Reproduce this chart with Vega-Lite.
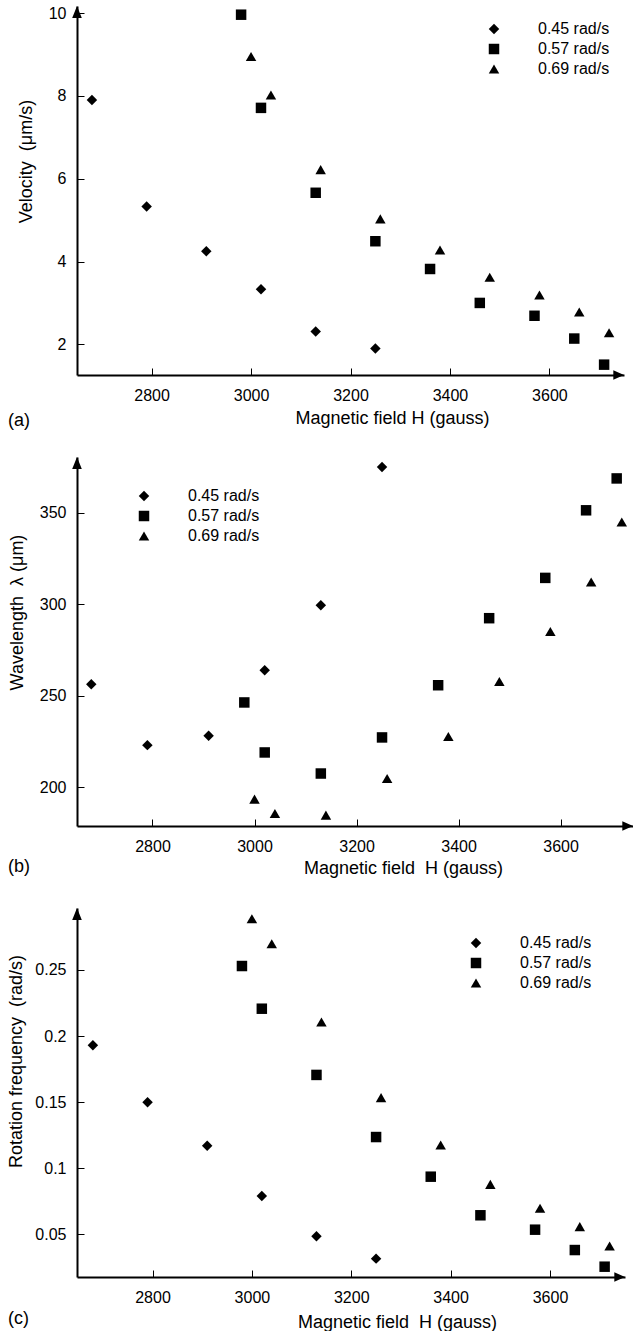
{
  "$schema": "https://vega.github.io/schema/vega-lite/v6.json",
  "padding": {"left": 7, "top": 5, "right": 0, "bottom": 0},
  "datasets": {
    "pts": [
      {"series": "0.45 rad/s", "H": 2680, "velocity": 7.90, "wavelength": 256.4, "rotation": 0.193},
      {"series": "0.45 rad/s", "H": 2790, "velocity": 5.33, "wavelength": 223.1, "rotation": 0.150},
      {"series": "0.45 rad/s", "H": 2910, "velocity": 4.25, "wavelength": 228.2, "rotation": 0.117},
      {"series": "0.45 rad/s", "H": 3020, "velocity": 3.33, "wavelength": 264.0, "rotation": 0.079},
      {"series": "0.45 rad/s", "H": 3130, "velocity": 2.31, "wavelength": 299.5, "rotation": 0.0485},
      {"series": "0.45 rad/s", "H": 3250, "velocity": 1.90, "wavelength": 374.9, "rotation": 0.0316},
      {"series": "0.57 rad/s", "H": 2980, "velocity": 9.96, "wavelength": 246.4, "rotation": 0.253},
      {"series": "0.57 rad/s", "H": 3020, "velocity": 7.71, "wavelength": 219.1, "rotation": 0.2207},
      {"series": "0.57 rad/s", "H": 3130, "velocity": 5.66, "wavelength": 207.6, "rotation": 0.1706},
      {"series": "0.57 rad/s", "H": 3250, "velocity": 4.49, "wavelength": 227.3, "rotation": 0.1236},
      {"series": "0.57 rad/s", "H": 3360, "velocity": 3.82, "wavelength": 255.8, "rotation": 0.0936},
      {"series": "0.57 rad/s", "H": 3460, "velocity": 3.00, "wavelength": 292.4, "rotation": 0.0644},
      {"series": "0.57 rad/s", "H": 3570, "velocity": 2.69, "wavelength": 314.4, "rotation": 0.0535},
      {"series": "0.57 rad/s", "H": 3650, "velocity": 2.14, "wavelength": 351.3, "rotation": 0.0381},
      {"series": "0.57 rad/s", "H": 3710, "velocity": 1.51, "wavelength": 368.7, "rotation": 0.0255},
      {"series": "0.69 rad/s", "H": 3000, "velocity": 8.95, "wavelength": 193.6, "rotation": 0.2888},
      {"series": "0.69 rad/s", "H": 3040, "velocity": 8.02, "wavelength": 185.8, "rotation": 0.2699},
      {"series": "0.69 rad/s", "H": 3140, "velocity": 6.22, "wavelength": 184.9, "rotation": 0.2107},
      {"series": "0.69 rad/s", "H": 3260, "velocity": 5.03, "wavelength": 204.9, "rotation": 0.1534},
      {"series": "0.69 rad/s", "H": 3380, "velocity": 4.28, "wavelength": 227.8, "rotation": 0.1176},
      {"series": "0.69 rad/s", "H": 3480, "velocity": 3.62, "wavelength": 257.8, "rotation": 0.0878},
      {"series": "0.69 rad/s", "H": 3580, "velocity": 3.19, "wavelength": 285.1, "rotation": 0.0697},
      {"series": "0.69 rad/s", "H": 3660, "velocity": 2.78, "wavelength": 312.2, "rotation": 0.0558},
      {"series": "0.69 rad/s", "H": 3720, "velocity": 2.28, "wavelength": 344.9, "rotation": 0.0412}
    ]
  },
  "config": {
    "view": {"stroke": null},
    "font": "Liberation Sans",
    "axis": {
      "grid": false, "domainColor": "black", "domainWidth": 2,
      "tickColor": "black", "tickSize": -7, "tickWidth": 1,
      "labelFont": "Liberation Sans", "labelFontSize": 16, "labelColor": "black",
      "titleFont": "Liberation Sans", "titleFontSize": 18, "titleFontWeight": "normal", "titleColor": "black"
    },
    "axisX": {"labelPadding": 19},
    "axisY": {"labelPadding": 18},
    "legend": {
      "title": null, "labelFont": "Liberation Sans", "labelFontSize": 16, "labelColor": "black",
      "labelOffset": 36, "rowPadding": 4, "symbolSize": 110, "symbolFillColor": "black",
      "symbolStrokeColor": "black", "symbolStrokeWidth": 0, "padding": 0
    },
    "title": {
      "orient": "bottom", "anchor": "start", "frame": "group", "dx": -69,
      "fontSize": 18, "fontWeight": "normal", "font": "Liberation Sans", "color": "black"
    }
  },
  "bounds": "flush",
  "spacing": 82,
  "resolve": {"legend": {"shape": "independent"}, "scale": {"shape": "independent"}},
  "vconcat": [
    {
      "width": 547, "height": 369,
      "title": {"text": "(a)", "offset": -15},
      "layer": [
        {
          "data": {"name": "pts"},
          "mark": {"type": "point", "filled": true, "size": 110, "color": "black", "opacity": 1},
          "encoding": {
            "x": {"field": "H", "type": "quantitative",
              "scale": {"domain": [2650, 3750], "nice": false, "zero": false},
              "axis": {"values": [2800, 3000, 3200, 3400, 3600], "format": "d", "title": "Magnetic field H (gauss)",
                "titleX": 315, "titleY": 48, "titleBaseline": "alphabetic"}},
            "y": {"field": "velocity", "type": "quantitative",
              "scale": {"domain": [1.26, 10.17], "nice": false, "zero": false},
              "axis": {"values": [2, 4, 6, 8, 10], "title": "Velocity\u00a0 (μm/s)", "titleX": -51, "titleY": 155, "titleBaseline": "middle"}},
            "shape": {"field": "series", "type": "nominal",
              "scale": {"domain": ["0.45 rad/s", "0.57 rad/s", "0.69 rad/s"], "range": ["diamond", "square", "triangle-up"]},
              "legend": {"orient": "none", "legendX": 409, "legendY": 15, "labelOffset": 36, "labelFontSize": 16, "labelFont": "Liberation Sans", "symbolSize": 110}}
          }
        },
        {
          "data": {"values": [{}]},
          "mark": {"type": "point", "shape": "M0,0L-0.4,1L0.4,1Z", "size": 576, "filled": true, "color": "black", "opacity": 1},
          "encoding": {"x": {"datum": 2650, "type": "quantitative"}, "y": {"datum": 10.17, "type": "quantitative"}}
        },
        {
          "data": {"values": [{}]},
          "mark": {"type": "point", "shape": "M0,0L-1,-0.45L-1,0.45Z", "size": 458, "filled": true, "color": "black", "opacity": 1},
          "encoding": {"x": {"datum": 3750, "type": "quantitative"}, "y": {"datum": 1.26, "type": "quantitative"}}
        }
      ]
    },
    {
      "width": 556, "height": 369,
      "title": {"text": "(b)", "offset": -19},
      "layer": [
        {
          "data": {"name": "pts"},
          "mark": {"type": "point", "filled": true, "size": 110, "color": "black", "opacity": 1},
          "encoding": {
            "x": {"field": "H", "type": "quantitative",
              "scale": {"domain": [2652, 3742], "nice": false, "zero": false},
              "axis": {"values": [2800, 3000, 3200, 3400, 3600], "format": "d", "title": "Magnetic field\u00a0 H (gauss)",
                "titleX": 326, "titleY": 47, "titleBaseline": "alphabetic"}},
            "y": {"field": "wavelength", "type": "quantitative",
              "scale": {"domain": [178.95, 380.4], "nice": false, "zero": false},
              "axis": {"values": [200, 250, 300, 350], "title": "Wavelength\u00a0 λ (μm)", "titleX": -60, "titleY": 155, "titleBaseline": "middle"}},
            "shape": {"field": "series", "type": "nominal",
              "scale": {"domain": ["0.45 rad/s", "0.57 rad/s", "0.69 rad/s"], "range": ["diamond", "square", "triangle-up"]},
              "legend": {"orient": "none", "legendX": 59, "legendY": 31, "labelOffset": 36, "labelFontSize": 16, "labelFont": "Liberation Sans", "symbolSize": 110}}
          }
        },
        {
          "data": {"values": [{}]},
          "mark": {"type": "point", "shape": "M0,0L-0.4,1L0.4,1Z", "size": 576, "filled": true, "color": "black", "opacity": 1},
          "encoding": {"x": {"datum": 2652, "type": "quantitative"}, "y": {"datum": 380.4, "type": "quantitative"}}
        },
        {
          "data": {"values": [{}]},
          "mark": {"type": "point", "shape": "M0,0L-1,-0.45L-1,0.45Z", "size": 458, "filled": true, "color": "black", "opacity": 1},
          "encoding": {"x": {"datum": 3742, "type": "quantitative"}, "y": {"datum": 178.95, "type": "quantitative"}}
        }
      ]
    },
    {
      "width": 548, "height": 369,
      "title": {"text": "(c)", "offset": -21},
      "layer": [
        {
          "data": {"name": "pts"},
          "mark": {"type": "point", "filled": true, "size": 110, "color": "black", "opacity": 1},
          "encoding": {
            "x": {"field": "H", "type": "quantitative",
              "scale": {"domain": [2648, 3751], "nice": false, "zero": false},
              "axis": {"values": [2800, 3000, 3200, 3400, 3600], "format": "d", "title": "Magnetic field\u00a0 H (gauss)",
                "titleX": 320, "titleY": 50, "titleBaseline": "alphabetic"}},
            "y": {"field": "rotation", "type": "quantitative",
              "scale": {"domain": [0.0177, 0.2969], "nice": false, "zero": false},
              "axis": {"values": [0.05, 0.1, 0.15, 0.2, 0.25], "format": ".2~f", "title": "Rotation frequency\u00a0 (rad/s)", "titleX": -61, "titleY": 153, "titleBaseline": "middle"}},
            "shape": {"field": "series", "type": "nominal",
              "scale": {"domain": ["0.45 rad/s", "0.57 rad/s", "0.69 rad/s"], "range": ["diamond", "square", "triangle-up"]},
              "legend": {"orient": "none", "legendX": 391, "legendY": 27, "labelOffset": 36, "labelFontSize": 16, "labelFont": "Liberation Sans", "symbolSize": 110}}
          }
        },
        {
          "data": {"values": [{}]},
          "mark": {"type": "point", "shape": "M0,0L-0.4,1L0.4,1Z", "size": 576, "filled": true, "color": "black", "opacity": 1},
          "encoding": {"x": {"datum": 2648, "type": "quantitative"}, "y": {"datum": 0.2969, "type": "quantitative"}}
        },
        {
          "data": {"values": [{}]},
          "mark": {"type": "point", "shape": "M0,0L-1,-0.45L-1,0.45Z", "size": 458, "filled": true, "color": "black", "opacity": 1},
          "encoding": {"x": {"datum": 3751, "type": "quantitative"}, "y": {"datum": 0.0177, "type": "quantitative"}}
        }
      ]
    }
  ]
}
